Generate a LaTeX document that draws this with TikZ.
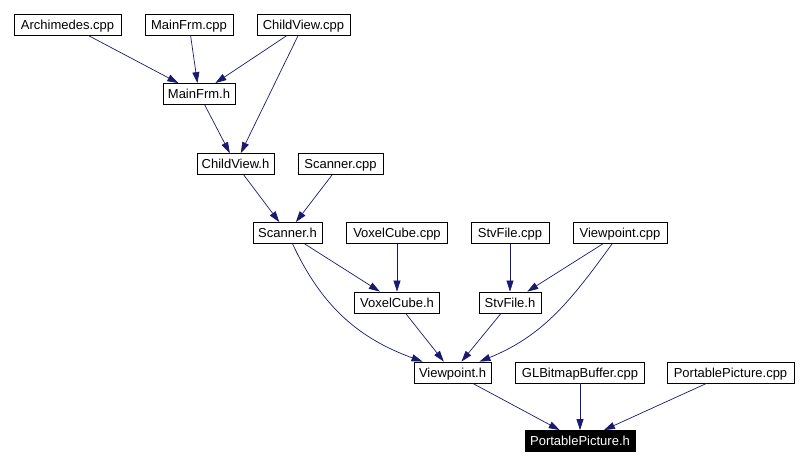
\documentclass[tikz,border=0pt]{standalone}
\usepackage{fontspec}
\setmainfont{Liberation Sans}
\usepackage{tikz}
\usetikzlibrary{arrows.meta}
\usetikzlibrary{positioning}
\definecolor{midnight}{RGB}{25,25,112}
\tikzstyle{file}=[rectangle,draw=black,fill=white,line width=0.8pt,minimum height=21pt,inner sep=0pt,text height=9.4pt,text depth=0pt,font=\fontsize{13}{15}\selectfont]
\tikzstyle{target}=[file,fill=black,text=white]
\tikzstyle{dep} = [draw,line width=0.7pt,midnight,-{Triangle[length=11pt,width=7pt]}]

\begin{document}
\begin{tikzpicture}[x=1pt,y=1pt]

  \useasboundingbox (0,0) rectangle (807,-465);

  % source and header files
  \foreach \x/\y/\w/\name/\label in {67.5/24.5/107/arch/Archimedes.cpp, 189/24.5/88/mfcpp/MainFrm.cpp,
      303.5/24.5/93/cvcpp/ChildView.cpp, 199/94/72/mfh/MainFrm.h,
      235.5/164/77/cvh/ChildView.h, 340.5/164/85/sccpp/Scanner.cpp,
      287.5/233/69/sch/Scanner.h, 397/233/101/vccpp/VoxelCube.cpp,
      510/233/78/sfcpp/StvFile.cpp, 620/233/94/vpcpp/Viewpoint.cpp,
      397/302.5/85/vch/VoxelCube.h, 510/302.5/62/sfh/StvFile.h,
      452.5/372.5/77/vph/Viewpoint.h, 580/372.5/129/glcpp/GLBitmapBuffer.cpp,
      730.5/372.5/127/ppcpp/PortablePicture.cpp}
        \node[file, minimum width=\w pt] (\name) at (\x,-\y) {\label};

  \node[target, minimum width=110pt] (pph) at (580,-441) {PortablePicture.h};

  % include edges
  \foreach \source/ \dest in {arch/mfh, mfcpp/mfh, cvcpp/mfh, cvcpp/cvh, mfh/cvh,
      cvh/sch, sccpp/sch, sch/vch, vccpp/vch, sfcpp/sfh, vpcpp/sfh,
      vch/vph, sfh/vph, vph/pph, glcpp/pph, ppcpp/pph}
         \draw[dep] (\source) -- (\dest);

  \draw[dep] (sch) to[out=-65, in=160] (vph);
  \draw[dep] (vpcpp) to[out=-126, in=22] (vph);

\end{tikzpicture}
\end{document}
